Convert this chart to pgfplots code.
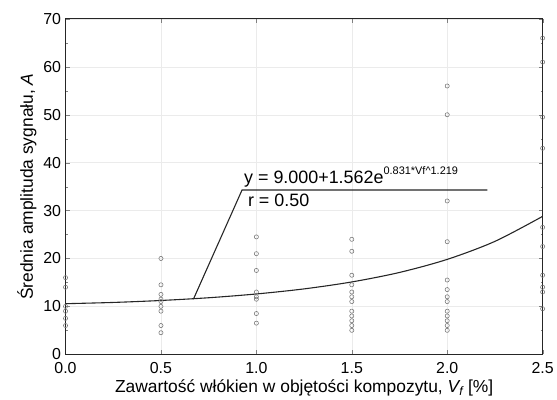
\documentclass[border={14bp 0bp 0bp 10bp}]{standalone}
\usepackage{fontspec}
\setmainfont{Liberation Sans}
\usepackage{pgfplots}
\pgfplotsset{compat=1.18}

\begin{document}
\begin{tikzpicture}
\begin{axis}[
  scale only axis,
  width=478bp, height=336bp,
  xmin=0, xmax=2.5, ymin=0, ymax=70,
  xtick={0,0.5,...,2.5},
  ytick={0,10,...,70},
  minor y tick num=1,
  x tick label style={yshift=-5pt, /pgf/number format/fixed, /pgf/number format/fixed zerofill, /pgf/number format/precision=1},
  /pgf/number format/assume math mode=true,
  tick label style={font=\fontsize{16}{18}\selectfont},
  y tick label style={xshift=-1pt},
  xlabel={Zawartość włókien w objętości kompozytu, \textit{V\textsubscript{f}} [\%]},
  ylabel={Średnia amplituda sygnału, \textit{A}},
  xlabel style={font=\fontsize{17.5}{19}\selectfont, yshift=1pt},
  ylabel style={font=\fontsize{17.5}{19}\selectfont, yshift=0pt},
  tick align=inside,
  major tick length=4pt, minor tick length=2pt,
  grid=major,
  major grid style={black!8, line width=0.4pt},
  axis line style={line width=1.1pt, black!85},
  clip=false,
]
% measured points
\addplot[only marks, mark=o, mark size=2.1pt, black!55, line width=0.55pt] coordinates {
  (0,16) (0,14) (0,10) (0,9) (0,7.5) (0,6)
  (0.5,20) (0.5,14.5) (0.5,12.5) (0.5,11.5) (0.5,11) (0.5,10) (0.5,9) (0.5,6) (0.5,4.5)
  (1,24.5) (1,21) (1,17.5) (1,13) (1,12) (1,11.5) (1,8.5) (1,6.5)
  (1.5,24) (1.5,21.5) (1.5,16.5) (1.5,14.5) (1.5,13) (1.5,12) (1.5,11) (1.5,9) (1.5,8) (1.5,7) (1.5,6) (1.5,5)
  (2,56) (2,50) (2,32) (2,23.5) (2,15.5) (2,13.5) (2,12) (2,11) (2,9) (2,8) (2,7) (2,6) (2,5)
  (2.5,66) (2.5,61) (2.5,49.5) (2.5,43) (2.5,26.5) (2.5,22.5) (2.5,16.5) (2.5,14) (2.5,13) (2.5,9.5)
};
% fitted curve y = 9.000 + 1.562 e^{0.831 Vf^1.219}
\addplot[smooth, black!85, line width=1.1pt] coordinates {
  (0,10.56) (0.25,10.82) (0.5,11.23) (0.75,11.80) (1,12.59) (1.25,13.65)
  (1.5,15.10) (1.75,17.08) (2,19.81) (2.25,23.57) (2.5,28.79)
};
% leader line of the equation
\addplot[black!85, line width=1.1pt] coordinates {(0.67,11.5) (0.925,34.3) (2.21,34.3)};
\node[anchor=south west, inner sep=1pt, font=\fontsize{18}{20}\selectfont]
  at (axis cs:0.93,34.6) {y = 9.000+1.562e\raisebox{0.5em}{\fontsize{11}{12}\selectfont 0.831*Vf\textasciicircum 1.219}};
\node[anchor=north west, inner sep=1pt, font=\fontsize{18}{20}\selectfont]
  at (axis cs:0.95,33.6) {r = 0.50};
\end{axis}
\end{tikzpicture}
\end{document}
